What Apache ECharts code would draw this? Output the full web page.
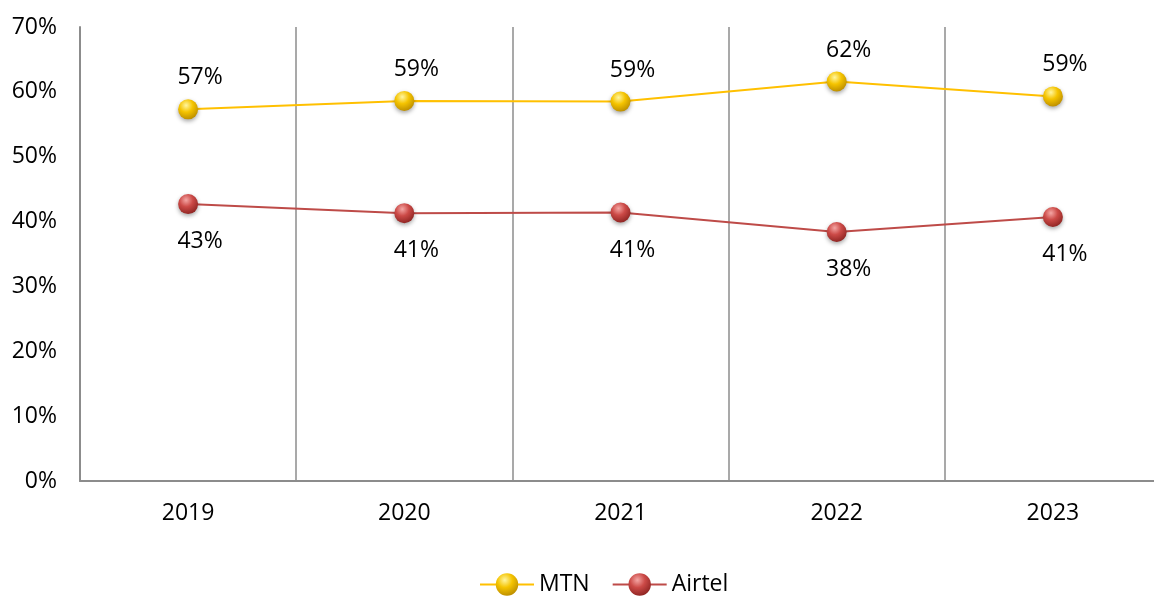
<!DOCTYPE html>
<html>
<head>
<meta charset="utf-8">
<script src="https://cdn.jsdelivr.net/npm/echarts@6/dist/echarts.min.js"></script>
<style>
  html, body { margin: 0; padding: 0; background: #fff; }
  #main { width: 1154px; height: 597px; }
</style>
</head>
<body>
<div id="main"></div>
<script>
var years = ['2019', '2020', '2021', '2022', '2023'];
var mtn = [57.3, 58.6, 58.5, 61.6, 59.3];
var airtel = [42.7, 41.3, 41.4, 38.4, 40.7];

var fontFam = '"Open Sans", sans-serif';
var fs = 23;

function ball(light, mid, dark) {
    return new echarts.graphic.RadialGradient(0.4, 0.3, 0.75, [
        { offset: 0, color: light },
        { offset: 0.45, color: mid },
        { offset: 1, color: dark }
    ]);
}

var chart = echarts.init(document.getElementById('main'));
var option = {
    backgroundColor: '#fff',
    animation: false,
    textStyle: { fontFamily: fontFam },
    grid: { left: 80, right: -7, top: 27, bottom: 116, outerBoundsMode: 'none' },
    legend: {
        top: 568,
        left: 474,
        itemWidth: 54,
        itemHeight: 28,
        itemGap: 22,
        textStyle: { fontSize: fs, color: '#000', fontFamily: fontFam },
        data: ['MTN', 'Airtel']
    },
    xAxis: {
        type: 'category',
        data: years,
        boundaryGap: true,
        axisLine: { lineStyle: { color: '#8c8c8c', width: 2 } },
        axisTick: { show: false },
        axisLabel: { fontSize: fs, color: '#000', margin: 21 },
        splitLine: {
            show: true,
            lineStyle: { color: '#8c8c8c', width: 1.5 }
        }
    },
    yAxis: {
        type: 'value',
        min: 0,
        max: 70,
        interval: 10,
        axisLine: { show: true, lineStyle: { color: '#8c8c8c', width: 2 } },
        axisTick: { show: false },
        splitLine: { show: false },
        axisLabel: { fontSize: fs, color: '#000', margin: 23, formatter: '{value}%' }
    },
    series: [
        {
            name: 'MTN',
            type: 'line',
            data: mtn,
            symbol: 'circle',
            symbolSize: 20,
            lineStyle: { color: '#FFC000', width: 2 },
            itemStyle: {
                color: ball('#fff6a0', '#f5c400', '#b88a00'),
                shadowColor: 'rgba(0,0,0,0.35)',
                shadowBlur: 4,
                shadowOffsetY: 2
            },
            label: {
                show: true,
                position: 'top',
                distance: 10,
                offset: [12, 0],
                fontSize: fs,
                color: '#000',
                formatter: function (p) { return Math.round(p.value) + '%'; }
            }
        },
        {
            name: 'Airtel',
            type: 'line',
            data: airtel,
            symbol: 'circle',
            symbolSize: 20,
            lineStyle: { color: '#BE4B48', width: 2 },
            itemStyle: {
                color: ball('#f4a6a4', '#cc4a47', '#8a2220'),
                shadowColor: 'rgba(0,0,0,0.35)',
                shadowBlur: 4,
                shadowOffsetY: 2
            },
            label: {
                show: true,
                position: 'bottom',
                distance: 16,
                offset: [12, 0],
                fontSize: fs,
                color: '#000',
                formatter: function (p) { return Math.round(p.value) + '%'; }
            }
        }
    ]
};
chart.setOption(option);
</script>
</body>
</html>
